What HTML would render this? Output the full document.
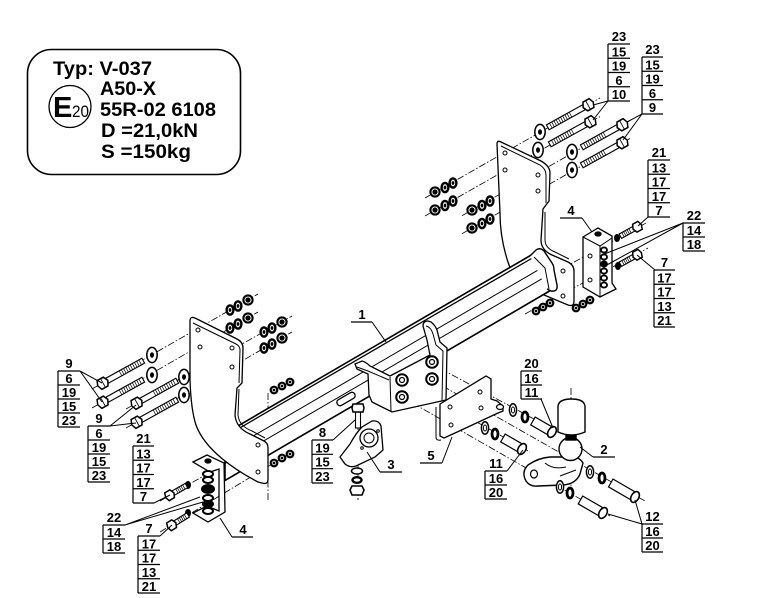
<!DOCTYPE html>
<html><head><meta charset="utf-8"><style>
html,body{margin:0;padding:0;background:#fff;}
svg{display:block;}
.l{font-family:"Liberation Sans",Arial,sans-serif;font-weight:bold;font-size:13px;text-anchor:middle;fill:#000;}
.b{font-family:"Liberation Sans",Arial,sans-serif;font-weight:bold;font-size:19.5px;fill:#000;}
</style></head><body>
<svg width="762" height="598" viewBox="0 0 762 598" xmlns="http://www.w3.org/2000/svg">
<rect width="762" height="598" fill="#fff"/>
<defs>
<g id="nt"><circle r="4.6" fill="#fff" stroke="#000" stroke-width="2.1"/><circle r="2.1" fill="#000" stroke="#000" stroke-width="1"/></g>
<g id="sw"><ellipse rx="3.4" ry="4.6" fill="#fff" stroke="#000" stroke-width="2.4"/><ellipse rx="1.4" ry="1.9" fill="#000"/></g>
<g id="bw"><ellipse rx="5.2" ry="7.6" fill="#fff" stroke="#000" stroke-width="1.5"/><ellipse rx="2" ry="2.8" fill="#000"/></g>
<g id="tn"><circle r="3.3" fill="#fff" stroke="#000" stroke-width="2.2"/><circle r="1.4" fill="#000"/></g>
<g id="bl">
<rect x="4" y="-2.8" width="42" height="5.6" fill="#fff" stroke="#000" stroke-width="1.1"/>
<path d="M20,-2.8v5.6M22.5,-2.8v5.6M25,-2.8v5.6M27.5,-2.8v5.6M30,-2.8v5.6M32.5,-2.8v5.6M35,-2.8v5.6M37.5,-2.8v5.6M40,-2.8v5.6M42.5,-2.8v5.6" stroke="#000" stroke-width="0.7"/>
<polygon points="-4,-5 3,-5 5.5,0 3,5 -4,5 -6,0" fill="#fff" stroke="#000" stroke-width="1.5"/>
<path d="M0,-5V5" stroke="#000" stroke-width="0.8"/>
</g>
<g id="bs">
<rect x="3" y="-2.5" width="16" height="5" fill="#fff" stroke="#000" stroke-width="1.1"/>
<path d="M8,-2.5v5M10,-2.5v5M12,-2.5v5M14,-2.5v5M16,-2.5v5" stroke="#000" stroke-width="0.7"/>
<polygon points="-3.5,-4.5 2.5,-4.5 4.5,0 2.5,4.5 -3.5,4.5 -5,0" fill="#fff" stroke="#000" stroke-width="1.5"/>
</g>
<g id="hw"><ellipse rx="3.6" ry="6.2" fill="#fff" stroke="#000" stroke-width="1.5"/><ellipse rx="1.6" ry="3" fill="none" stroke="#000" stroke-width="1"/></g>
<g id="hr"><ellipse rx="3" ry="5" fill="#fff" stroke="#000" stroke-width="2.8"/></g>
</defs>

<!-- dash-dot construction lines -->
<g stroke="#000" stroke-width="0.8" stroke-dasharray="7,2,1.5,2" fill="none">
<path d="M425,198L600,98 M425,216L600,116.6 M462,215.7L630,120.5 M462,233.7L630,138.5
M92,389L258,294 M92,408L258,312 M126,409L292,316 M126,428L292,332
M160,501L282,431 M160,532L292,452 M268,393L268,500
M530,286L648,222 M525,314L648,248
M430,363L560,433 M432,380L645,501 M402,380L530,452 M402,397L610,516
M358,398L358,500 M571,388L571,495"/>
</g>

<!-- right bracket -->
<g fill="#fff" stroke="#000" stroke-width="1.3">
<path d="M497,144 Q497,140 501,142 L541,161 Q550,166 550,173 L549,201 L543,209 L541,240 Q541,250 552,255 L568,262 Q574,265 574,271 L574,301 Q574,307 568,305 L520,285 L515,280 C505,258 500,235 500,213 Z"/>
<path d="M501,146 L540,165 Q546,169 546,175 L546,203 M545,212 L545,240 Q545,248 555,252 L569,259" fill="none" stroke-width="1"/>
<circle cx="505" cy="153" r="2" stroke-width="1"/><circle cx="505" cy="170" r="2" stroke-width="1"/>
<circle cx="538" cy="175" r="2" stroke-width="1"/><circle cx="538" cy="191" r="2" stroke-width="1"/>
<circle cx="563" cy="271" r="2" stroke-width="1"/><circle cx="563" cy="296" r="2" stroke-width="1"/>
</g>

<!-- beam -->
<g fill="none" stroke="#000" stroke-width="1.3">
<path d="M225,433.5 L533,254 L541,262 L553,289 L225,480.5 Z" fill="#fff" stroke-width="1.6"/>
<path d="M225,436.5 L535,256.5"/>
<path d="M225,452.5 L541,268.3" stroke-width="1"/>
<path d="M225,463.5 L547,275.8" stroke-width="1"/>
<path d="M530,256 L536,250 Q540,247 544,251 L552,263 Q554,266 554,270 L557,285 Q558,292 551,291 L547,289" fill="#fff" stroke-width="1.4"/>
<path d="M534,257 L545,268 L549,289" stroke-width="1"/>
<rect x="-10" y="-3.2" width="20" height="6.4" rx="3" transform="translate(346,399) rotate(-30)" fill="#fff" stroke-width="1.3"/>
</g>

<!-- left bracket -->
<g fill="#fff" stroke="#000" stroke-width="1.3">
<path d="M190,321 Q190,316 195,318 L237,339 Q243,342 243,348 L242,383 L237,388 L235,415 Q236,428 250,434 L264,441 Q268,443 268,448 L268,479 Q268,485 262,483 L258,482 C235,470 205,450 196,425 Q191,410 190,380 Z"/>
<path d="M193,323 L236,344 Q240,346 240,350 L239,383 M239,389 L238,415 Q239,426 252,431 L265,438" fill="none" stroke-width="1"/>
<circle cx="198" cy="330" r="2" stroke-width="1"/><circle cx="200" cy="347" r="2" stroke-width="1"/>
<circle cx="232" cy="348" r="2" stroke-width="1"/><circle cx="232" cy="367" r="2" stroke-width="1"/>
<circle cx="258" cy="445" r="2" stroke-width="1"/><circle cx="258" cy="472" r="2" stroke-width="1"/>
</g>

<!-- saddle -->
<g fill="#fff" stroke="#000" stroke-width="1.3">
<path d="M355,364 L362,361 Q366,362 370,366 L380,371 L390,376 L430,355 L427,340 L423,326 Q423,321 428,321 L431,322 Q435,325 437,330 L440,342 L447,348 L446,400 L392,412 L372,402 L369,395 L368,374 L357,369 Z"/>
<path d="M357,367 L368,371 L389,380 M390,377 L391,411 M426,326 Q431,327 433,334 L436,345 L443,351 L442,401 M430,355 L431,358" fill="none" stroke-width="1"/>
</g>
<g stroke="#000" fill="#fff">
<circle cx="402" cy="380" r="5.8" stroke-width="2"/><circle cx="402" cy="380" r="2.5" stroke-width="1.2"/>
<circle cx="432" cy="362" r="5.8" stroke-width="2"/><circle cx="432" cy="362" r="2.5" stroke-width="1.2"/>
<circle cx="402" cy="397" r="5.8" stroke-width="2"/><circle cx="402" cy="397" r="2.5" stroke-width="1.2"/>
<circle cx="432" cy="379" r="5.8" stroke-width="2"/><circle cx="432" cy="379" r="2.5" stroke-width="1.2"/>
</g>

<!-- plate 5 -->
<g fill="#fff" stroke="#000" stroke-width="1.3">
<path d="M440,404 L486,376 L491,379 L491,399 L497,401 L503,406 L503,411 L498,413 L455,433 L444,438 L440,436 Z"/>
<path d="M436,407 L436,437 Q436,441 441,440" fill="none" stroke-width="1"/>
<ellipse cx="500" cy="407" rx="3.5" ry="2.5" stroke-width="1.2"/>
<circle cx="450" cy="407" r="2" stroke-width="1"/><circle cx="451" cy="425" r="2" stroke-width="1"/>
<circle cx="480" cy="392" r="2" stroke-width="1"/><circle cx="481" cy="408" r="2" stroke-width="1"/>
</g>

<!-- bracket 3 + bolt 8 -->
<g fill="#fff" stroke="#000" stroke-width="1.3">
<path d="M340,457 L350,444 Q356,433 362,427 L372,421 Q379,420 381,426 L383,450 L375,457 L356,466 Q350,468 345,464 Z"/>
<circle cx="369" cy="438" r="9"/><circle cx="369" cy="438" r="5" stroke-width="1"/>
<circle cx="362" cy="448" r="1.3" stroke-width="1"/><circle cx="378" cy="431" r="1.3" stroke-width="1"/>
<rect x="355.5" y="412" width="5" height="16" stroke-width="1.1"/>
<polygon points="353,404 363,404 364,408 363,412 353,412 352,408" stroke-width="1.5"/>
<ellipse cx="357" cy="471" rx="5.5" ry="3" stroke-width="1.5"/>
<ellipse cx="357" cy="480" rx="4.5" ry="2.8" stroke-width="2.4"/>
<polygon points="352,486 362,486 364,490 362,495 352,495 350,490" stroke-width="1.6"/>
</g>

<!-- hitch part 2 -->
<g fill="#fff" stroke="#000" stroke-width="1.4">
<path d="M528,465 Q521,472 526,481 Q530,487 538,486 L563,485 Q576,484 580,474 L583,463 Q578,455 567,457 L550,457 Q538,458 528,465 Z"/>
<ellipse cx="534" cy="474" rx="3.5" ry="4" stroke-width="1.2"/>
<path d="M545,463 Q553,470 566,467 M560,476 L576,470" fill="none" stroke-width="1"/>
<circle cx="570.5" cy="449" r="11.5"/>
<rect x="566" y="433" width="10" height="7" fill="#000"/>
<path d="M558,432 L558,407 Q558,399 571.5,399 Q585,399 585,407 L585,432 Q571.5,438 558,432 Z"/>
</g>

<!-- hitch bolts and washers -->
<use href="#hw" x="513" y="410"/><use href="#hr" x="525" y="417"/>
<g transform="translate(552,432) rotate(30)"><rect x="-22" y="-4.5" width="22" height="9" fill="#fff" stroke="#000" stroke-width="1.2"/><ellipse rx="3.8" ry="5.8" fill="#fff" stroke="#000" stroke-width="1.6"/></g>
<use href="#hw" x="485" y="428"/><use href="#hr" x="495" y="434"/>
<g transform="translate(522,449) rotate(30)"><rect x="-22" y="-4.5" width="22" height="9" fill="#fff" stroke="#000" stroke-width="1.2"/><ellipse rx="3.8" ry="5.8" fill="#fff" stroke="#000" stroke-width="1.6"/></g>
<use href="#hw" x="590" y="472"/><use href="#hr" x="602" y="478"/>
<g transform="translate(635,497) rotate(30)"><rect x="-28" y="-4.5" width="28" height="9" fill="#fff" stroke="#000" stroke-width="1.2"/><ellipse rx="3.8" ry="5.8" fill="#fff" stroke="#000" stroke-width="1.6"/></g>
<use href="#hw" x="560" y="487"/><use href="#hr" x="570" y="493"/>
<g transform="translate(603,513) rotate(30)"><rect x="-26" y="-4.5" width="26" height="9" fill="#fff" stroke="#000" stroke-width="1.2"/><ellipse rx="3.8" ry="5.8" fill="#fff" stroke="#000" stroke-width="1.6"/></g>

<!-- top-right nuts -->
<use href="#sw" x="453" y="183"/><use href="#sw" x="445" y="187.5"/><use href="#nt" x="435" y="192"/>
<use href="#sw" x="453" y="201"/><use href="#sw" x="445" y="205.5"/><use href="#nt" x="435" y="210"/>
<use href="#sw" x="490" y="201"/><use href="#sw" x="482" y="205.5"/><use href="#nt" x="472" y="210"/>
<use href="#sw" x="490" y="219"/><use href="#sw" x="482" y="223.5"/><use href="#nt" x="472" y="228"/>
<!-- top-right washers & bolts -->
<use href="#bw" x="540" y="132"/><use href="#bw" x="538" y="150"/><use href="#bw" x="572" y="152"/><use href="#bw" x="572" y="170"/>
<use href="#bl" transform="translate(588,105) rotate(151)"/>
<use href="#bl" transform="translate(590,122) rotate(151)"/>
<use href="#bl" transform="translate(622,125) rotate(151)"/>
<use href="#bl" transform="translate(622,143) rotate(151)"/>

<!-- left nuts -->
<use href="#sw" x="230" y="310"/><use href="#sw" x="238" y="306"/><use href="#nt" x="248" y="300"/>
<use href="#sw" x="230" y="328"/><use href="#sw" x="238" y="324"/><use href="#nt" x="248" y="318"/>
<use href="#sw" x="264" y="332"/><use href="#sw" x="272" y="328"/><use href="#nt" x="282" y="322"/>
<use href="#sw" x="264" y="348"/><use href="#sw" x="272" y="344"/><use href="#nt" x="282" y="338"/>
<use href="#bw" x="152" y="355"/><use href="#bw" x="152" y="375"/><use href="#bw" x="184" y="377"/><use href="#bw" x="184" y="395"/>
<use href="#bl" transform="translate(103,383) rotate(-29)"/>
<use href="#bl" transform="translate(103,402) rotate(-29)"/>
<use href="#bl" transform="translate(137,403) rotate(-29)"/>
<use href="#bl" transform="translate(137,422) rotate(-29)"/>

<!-- small beam nuts -->
<use href="#tn" x="290" y="382"/><use href="#tn" x="282" y="386"/><use href="#tn" x="274" y="390"/>
<use href="#tn" x="290" y="454"/><use href="#tn" x="282" y="458"/><use href="#tn" x="274" y="463"/>
<use href="#tn" x="550" y="303"/><use href="#tn" x="543" y="307"/><use href="#tn" x="536" y="311"/>
<use href="#tn" x="590" y="300"/><use href="#tn" x="583" y="304"/><use href="#tn" x="576" y="308"/>

<!-- bracket 4 right -->
<g fill="#fff" stroke="#000" stroke-width="1.3">
<path d="M583,237 L598,228 L612,236 L612,283 L616,289 L600,297 L583,287 Z"/>
<path d="M583,237 L600,246 L612,238 M600,246 L600,297" fill="none" stroke-width="1"/>
<ellipse cx="598" cy="234" rx="3" ry="2" fill="#000"/>
<circle cx="590" cy="256" r="2" stroke-width="1"/><circle cx="590" cy="280" r="2" stroke-width="1"/>
<ellipse cx="604" cy="250" rx="3" ry="2.6" stroke-width="1.9"/>
<ellipse cx="604" cy="257" rx="3" ry="2.6" stroke-width="1.9"/>
<ellipse cx="604" cy="264" rx="3" ry="2.6" fill="#000" stroke-width="1.9"/>
<ellipse cx="604" cy="271" rx="3" ry="2.6" stroke-width="1.9"/>
<ellipse cx="604" cy="278" rx="3" ry="2.6" stroke-width="1.9"/>
<ellipse cx="604" cy="285" rx="3" ry="2.6" stroke-width="1.9"/>
</g>
<ellipse cx="617" cy="238" rx="3" ry="4" fill="#000"/>
<ellipse cx="618" cy="266" rx="3" ry="4" fill="#000"/>
<use href="#bs" transform="translate(637,227) rotate(151)"/>
<use href="#bs" transform="translate(637,255) rotate(151)"/>

<!-- bracket 4 left -->
<g fill="#fff" stroke="#000" stroke-width="1.3">
<path d="M193,462 L207,455 L224,463 L225,512 L208,522 L193,513 L207,506 L219,511 L219,469 L210,472 Z"/>
<ellipse cx="208" cy="461" rx="3" ry="2" fill="#000"/>
<ellipse cx="208" cy="474" rx="5" ry="3" stroke-width="2"/>
<ellipse cx="208" cy="480" rx="5" ry="3" stroke-width="2"/>
<ellipse cx="208" cy="489" rx="6" ry="4" fill="#000" stroke-width="2"/>
<ellipse cx="208" cy="498" rx="5" ry="3" stroke-width="2"/>
<ellipse cx="208" cy="504" rx="5" ry="3" fill="#000" stroke-width="2"/>
<ellipse cx="208" cy="511" rx="5" ry="3" stroke-width="2"/>
</g>
<ellipse cx="188" cy="485" rx="3" ry="4" fill="#000"/>
<ellipse cx="188" cy="513" rx="3" ry="4" fill="#000"/>
<use href="#bs" transform="translate(170,495) rotate(-30)"/>
<use href="#bs" transform="translate(172,525) rotate(-32)"/>

<!-- label stacks -->
<g stroke="#000" stroke-width="1.2" fill="none">
<path d="M608,44H630M608,44V101M608,58.25H630M608,72.5H630M608,86.75H630M608,101H630"/>
<path d="M642,57H663M642,57V114M642,71.25H663M642,85.5H663M642,99.75H663M642,114H663"/>
<path d="M648,160H670M648,160V217M648,174.25H670M648,188.5H670M648,202.75H670M648,217H670"/>
<path d="M683,223H705M683,223V251M683,237H705M683,251H705"/>
<path d="M654,270H675M654,270V327M654,284.25H675M654,298.5H675M654,312.75H675M654,327H675"/>
<path d="M58,371H80M58,371V427M58,385H80M58,399H80M58,413H80M58,427H80"/>
<path d="M88,426H110M88,426V482M88,440H110M88,454H110M88,468H110M88,482H110"/>
<path d="M133,446H154M133,446V503M133,460.25H154M133,474.5H154M133,488.75H154M133,503H154"/>
<path d="M103,525H125M103,525V553M103,539H125M103,553H125"/>
<path d="M138,536H160M138,536V593M138,550.25H160M138,564.5H160M138,578.75H160M138,593H160"/>
<path d="M312,440H333M312,440V483M312,454.3H333M312,468.7H333M312,483H333"/>
<path d="M521,371H542M521,371V399M521,385H542M521,399H542"/>
<path d="M485,471H507M485,471V499M485,485H507M485,499H507"/>
<path d="M642,524H663M642,524V552M642,538H663M642,552H663"/>
<path d="M351,322H372M380,472H402M420,463H442M593,457H615M560,218H582M232,537H253"/>
</g>
<!-- leaders -->
<g stroke="#000" stroke-width="1" fill="none">
<path d="M608,101L593,105M608,101L593,120"/>
<path d="M642,114L627,122M642,114L623,140"/>
<path d="M648,217L638,226"/>
<path d="M683,223L602,255M683,223L605,266"/>
<path d="M655,270L637,255"/>
<path d="M80,371L102,383M80,371L102,402"/>
<path d="M110,426L136,405M110,426L136,423"/>
<path d="M154,503L170,495"/>
<path d="M125,525L200,497M125,525L203,502"/>
<path d="M160,536L172,525"/>
<path d="M333,440L355,420"/>
<path d="M541,399L553,428"/>
<path d="M507,471L523,450"/>
<path d="M642,524L635,500M642,524L608,514"/>
<path d="M372,322L386,342"/>
<path d="M380,472L367,452"/>
<path d="M442,463L452,437"/>
<path d="M593,457L580,447"/>
<path d="M582,218L592,232"/>
<path d="M232,537L220,518"/>
</g>
<g class="l">
<text x="619" y="41">23</text><text x="619" y="56.3">15</text><text x="619" y="70.5">19</text><text x="619" y="84.8">6</text><text x="619" y="99">10</text>
<text x="652.5" y="54">23</text><text x="652.5" y="69.3">15</text><text x="652.5" y="83.5">19</text><text x="652.5" y="97.8">6</text><text x="652.5" y="112">9</text>
<text x="659" y="157">21</text><text x="659" y="172.3">13</text><text x="659" y="186.5">17</text><text x="659" y="200.8">17</text><text x="659" y="215">7</text>
<text x="694" y="220">22</text><text x="694" y="235">14</text><text x="694" y="249">18</text>
<text x="664.5" y="267">7</text><text x="664.5" y="282.3">17</text><text x="664.5" y="296.5">17</text><text x="664.5" y="310.8">13</text><text x="664.5" y="325">21</text>
<text x="69" y="368">9</text><text x="69" y="383">6</text><text x="69" y="397">19</text><text x="69" y="411">15</text><text x="69" y="425">23</text>
<text x="99" y="423">9</text><text x="99" y="438">6</text><text x="99" y="452">19</text><text x="99" y="466">15</text><text x="99" y="480">23</text>
<text x="143.5" y="443">21</text><text x="143.5" y="458.3">13</text><text x="143.5" y="472.5">17</text><text x="143.5" y="486.8">17</text><text x="143.5" y="501">7</text>
<text x="114" y="522">22</text><text x="114" y="537">14</text><text x="114" y="551">18</text>
<text x="149" y="533">7</text><text x="149" y="548.3">17</text><text x="149" y="562.5">17</text><text x="149" y="576.8">13</text><text x="149" y="591">21</text>
<text x="322.5" y="437">8</text><text x="322.5" y="452.3">19</text><text x="322.5" y="466.7">15</text><text x="322.5" y="481">23</text>
<text x="531.5" y="368">20</text><text x="531.5" y="383">16</text><text x="531.5" y="397">11</text>
<text x="496" y="468">11</text><text x="496" y="483">16</text><text x="496" y="497">20</text>
<text x="652.5" y="521">12</text><text x="652.5" y="536">16</text><text x="652.5" y="550">20</text>
<text x="362" y="319">1</text><text x="391" y="469">3</text><text x="431" y="460">5</text><text x="604" y="454">2</text><text x="571" y="215">4</text><text x="243" y="534">4</text>
</g>

<!-- info box -->
<rect x="27.5" y="49.5" width="213" height="125" rx="24" fill="#fff" stroke="#000" stroke-width="1.6"/>
<circle cx="70" cy="106.5" r="21" fill="none" stroke="#000" stroke-width="1.3"/>
<text x="53" y="117" font-family="Liberation Sans, Arial, sans-serif" font-weight="bold" font-size="29">E</text>
<text x="72" y="117" font-family="Liberation Sans, Arial, sans-serif" font-size="17" textLength="17" lengthAdjust="spacingAndGlyphs">20</text>
<text class="b" x="53" y="75" textLength="99" lengthAdjust="spacingAndGlyphs">Typ: V-037</text>
<text class="b" x="100" y="95" textLength="56" lengthAdjust="spacingAndGlyphs">A50-X</text>
<text class="b" x="100" y="116" textLength="116" lengthAdjust="spacingAndGlyphs">55R-02 6108</text>
<text class="b" x="101" y="137" textLength="97" lengthAdjust="spacingAndGlyphs">D =21,0kN</text>
<text class="b" x="101" y="158" textLength="90" lengthAdjust="spacingAndGlyphs">S =150kg</text>
</svg>
</body></html>
